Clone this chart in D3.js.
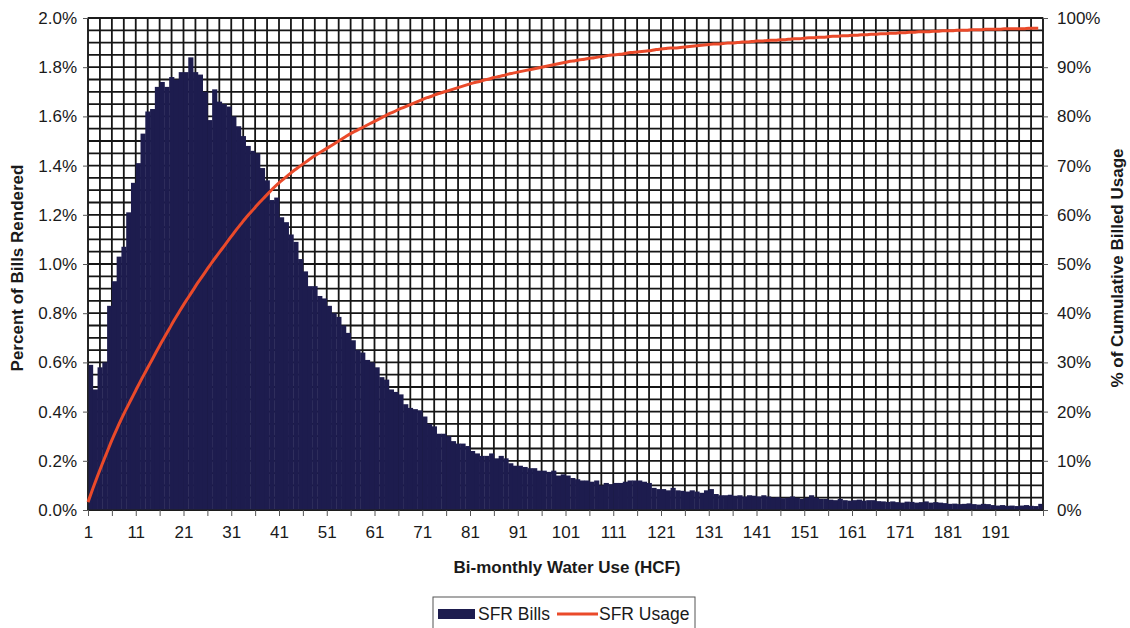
<!DOCTYPE html>
<html><head><meta charset="utf-8">
<script src="https://cdn.jsdelivr.net/npm/d3@7/dist/d3.min.js"></script>
<style>
body{margin:0;background:#fff;}
text{font-family:"Liberation Sans",Arial,sans-serif;fill:#1a1a1a;}
</style>
</head><body>
<svg id="c" width="1130" height="628"></svg>
<script>
// ---- data ----
const hcfCategories = d3.range(1, 201); // 1..200 HCF
const sfrBillsPct = [
0.59,0.49,0.58,0.60,0.83,0.93,1.03,1.07,1.21,1.33,
1.41,1.53,1.62,1.63,1.72,1.74,1.72,1.76,1.75,1.78,
1.78,1.84,1.78,1.77,1.70,1.585,1.71,1.66,1.65,1.64,
1.60,1.56,1.52,1.48,1.46,1.45,1.39,1.34,1.26,1.27,
1.19,1.17,1.12,1.09,1.02,0.97,0.91,0.91,0.87,0.86,
0.83,0.80,0.785,0.75,0.72,0.69,0.65,0.64,0.61,0.60,
0.58,0.54,0.53,0.49,0.48,0.47,0.43,0.415,0.41,0.405,
0.38,0.35,0.34,0.31,0.31,0.30,0.28,0.27,0.27,0.26,
0.24,0.23,0.22,0.22,0.23,0.21,0.22,0.21,0.19,0.18,
0.18,0.175,0.17,0.17,0.16,0.16,0.155,0.16,0.14,0.145,
0.14,0.13,0.125,0.12,0.12,0.115,0.12,0.10,0.11,0.105,
0.11,0.11,0.115,0.12,0.12,0.12,0.115,0.11,0.09,0.085,
0.085,0.08,0.09,0.08,0.078,0.075,0.08,0.075,0.07,0.08,
0.085,0.065,0.06,0.06,0.062,0.058,0.06,0.055,0.06,0.058,
0.055,0.06,0.055,0.05,0.052,0.048,0.05,0.055,0.05,0.045,
0.05,0.06,0.05,0.045,0.045,0.042,0.04,0.045,0.04,0.038,
0.04,0.042,0.038,0.04,0.04,0.036,0.035,0.033,0.035,0.032,
0.03,0.034,0.033,0.03,0.032,0.035,0.03,0.032,0.03,0.028,
0.025,0.026,0.024,0.025,0.027,0.024,0.022,0.025,0.024,0.02,
0.018,0.02,0.017,0.018,0.016,0.018,0.02,0.017,0.016,0.025
];
const sfrUsageCumPct = [
1.6,4.3,6.9,9.4,11.8,14.2,16.4,18.5,20.5,22.4,
24.3,26.2,28.0,29.8,31.6,33.4,35.1,36.8,38.5,40.1,
41.7,43.2,44.7,46.2,47.6,49.0,50.4,51.7,53.0,54.3,
55.6,56.9,58.1,59.3,60.4,61.5,62.6,63.6,64.6,65.6,
66.5,67.3,68.1,68.9,69.6,70.3,71.0,71.7,72.3,72.9,
73.5,74.1,74.7,75.3,75.9,76.5,77.0,77.5,78.0,78.5,
79.0,79.5,80.0,80.5,80.9,81.4,81.8,82.2,82.6,83.0,
83.4,83.8,84.1,84.5,84.8,85.1,85.4,85.7,86.0,86.3,
86.6,86.9,87.1,87.4,87.6,87.9,88.1,88.3,88.6,88.8,
89.0,89.2,89.4,89.6,89.8,90.0,90.2,90.4,90.6,90.8,
91.0,91.2,91.3,91.5,91.6,91.8,91.9,92.1,92.2,92.4,
92.5,92.6,92.7,92.9,93.0,93.1,93.2,93.3,93.4,93.6,
93.7,93.8,93.9,93.9,94.0,94.1,94.2,94.3,94.4,94.5,
94.6,94.7,94.7,94.8,94.9,94.9,95.0,95.1,95.1,95.2,
95.3,95.3,95.4,95.5,95.5,95.6,95.6,95.7,95.8,95.8,
95.9,96.0,96.0,96.1,96.1,96.2,96.3,96.3,96.4,96.4,
96.5,96.5,96.6,96.6,96.7,96.7,96.8,96.8,96.9,96.9,
97.0,97.0,97.1,97.1,97.2,97.2,97.2,97.3,97.3,97.4,
97.4,97.4,97.5,97.5,97.5,97.6,97.6,97.6,97.7,97.7,
97.7,97.7,97.8,97.8,97.8,97.8,97.8,97.9,97.9,97.9
];
const xTickLabels = [1,11,21,31,41,51,61,71,81,91,101,111,121,131,141,151,161,171,181,191];
const leftTicks = [0,0.2,0.4,0.6,0.8,1.0,1.2,1.4,1.6,1.8,2.0];
const rightTicks = [0,10,20,30,40,50,60,70,80,90,100];
const seriesNames = ["SFR Bills","SFR Usage"];
const titles = {x:"Bi-monthly Water Use (HCF)", yLeft:"Percent of Bills Rendered", yRight:"% of Cumulative Billed Usage"};

// ---- layout ----
const L=88, R=1043, T=18, B=510;
const navy="#1d1c4e", red="#ea4a2a", gridC="#151515";
const svg=d3.select("#c");
const x=d3.scaleLinear().domain([1,201]).range([L,R]);
const yL=d3.scaleLinear().domain([0,2.0]).range([B,T]);
const yR=d3.scaleLinear().domain([0,100]).range([B,T]);

// grid
const g=svg.append("g");
g.selectAll("line.h").data(d3.range(0,41).map(i=>i*0.05)).join("line")
 .attr("x1",L).attr("x2",R).attr("y1",d=>yL(d)).attr("y2",d=>yL(d))
 .attr("stroke",gridC).attr("stroke-width",1.8);
g.selectAll("line.v").data(d3.range(0,81).map(i=>1+i*2.5)).join("line")
 .attr("y1",T).attr("y2",B).attr("x1",d=>x(d)).attr("x2",d=>x(d))
 .attr("stroke",gridC).attr("stroke-width",1.8);

// bars
const bw = x(2)-x(1);
svg.append("g").selectAll("rect").data(hcfCategories).join("rect")
 .attr("x",h=>x(h)).attr("width",bw+0.4)
 .attr("y",(h,i)=>yL(sfrBillsPct[i])).attr("height",(h,i)=>B-yL(sfrBillsPct[i]))
 .attr("fill",navy);

// plot frame
svg.append("rect").attr("x",L).attr("y",T).attr("width",R-L).attr("height",B-T)
 .attr("fill","none").attr("stroke","#222").attr("stroke-width",1.2);

// line
svg.append("path").datum(hcfCategories)
 .attr("d",d3.line().x(h=>x(h)).y((h,i)=>yR(sfrUsageCumPct[i])).curve(d3.curveMonotoneX))
 .attr("fill","none").attr("stroke",red).attr("stroke-width",3);

// axes
const axL=d3.axisLeft(yL).tickValues(leftTicks).tickFormat(d=>d.toFixed(1)+"%").tickSize(5).tickPadding(6);
const axR=d3.axisRight(yR).tickValues(rightTicks).tickFormat(d=>d+"%").tickSize(5).tickPadding(9);
const axB=d3.axisBottom(x).tickValues(d3.range(1,202,5)).tickFormat(d=>xTickLabels.includes(d)?d:"").tickSize(6).tickPadding(10);
function style(sel){sel.select(".domain").remove();sel.selectAll("line").attr("stroke","#555");
 sel.selectAll("text").attr("font-size",17).attr("fill","#1a1a1a").style("font-family","'Liberation Sans',Arial,sans-serif");}
svg.append("g").attr("transform",`translate(${L},0)`).call(axL).call(style);
svg.append("g").attr("transform",`translate(${R},0)`).call(axR).call(style);
svg.append("g").attr("transform",`translate(0,${B})`).call(axB).call(style);

// titles
svg.append("text").attr("x",567).attr("y",573).attr("text-anchor","middle")
 .attr("font-size",17).attr("font-weight","bold").text(titles.x);
svg.append("text").attr("transform","translate(23,268) rotate(-90)").attr("text-anchor","middle")
 .attr("font-size",17).attr("font-weight","bold").text(titles.yLeft);
svg.append("text").attr("transform","translate(1123,268) rotate(-90)").attr("text-anchor","middle")
 .attr("font-size",17).attr("font-weight","bold").text(titles.yRight);

// legend
const lg=svg.append("g");
lg.append("rect").attr("x",433).attr("y",597).attr("width",262).attr("height",40)
 .attr("fill","#fff").attr("stroke","#555").attr("stroke-width",1);
lg.append("rect").attr("x",438).attr("y",609).attr("width",37).attr("height",10).attr("fill",navy);
lg.append("text").attr("x",478).attr("y",620).attr("font-size",17.5).text(seriesNames[0]);
lg.append("line").attr("x1",557).attr("x2",598).attr("y1",614).attr("y2",614).attr("stroke",red).attr("stroke-width",3);
lg.append("text").attr("x",599).attr("y",620).attr("font-size",17.5).text(seriesNames[1]);
</script>
</body></html>
